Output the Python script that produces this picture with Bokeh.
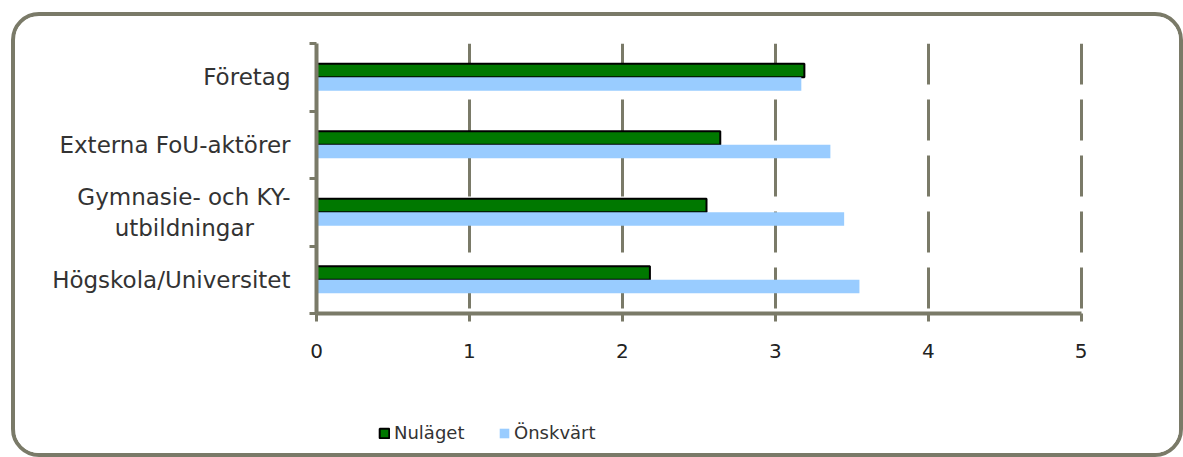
from bokeh.plotting import figure
from bokeh.layouts import column
from bokeh.models import ColumnDataSource, FixedTicker, Range1d, Legend, LegendItem
from bokeh.embed import file_html
from bokeh.resources import INLINE
from bokeh.transform import dodge

# ---- data ----
NB = "\u00a0"
categories = ["Högskola/Universitet", "Gymnasie- och KY-\nutbildningar" + NB * 5,
              "Externa FoU-aktörer", "Företag"]
nulaget = [2.18, 2.55, 2.64, 3.19]
onskvart = [3.55, 3.45, 3.36, 3.17]
x_ticks = [0, 1, 2, 3, 4, 5]
series_names = ["Nuläget", "Önskvärt"]

AX = "#7a7a68"
FONT = "DejaVu Sans"
GREEN = "#007800"
BLUE = "#99ccff"

ypos = [i + 0.5 for i in range(len(categories))]
src = ColumnDataSource(dict(y=ypos, nu=nulaget, on=onskvart))

p = figure(width=1164, height=357, output_backend="svg", toolbar_location=None,
           x_range=Range1d(0, 5.015), y_range=Range1d(0, len(categories)),
           min_border_left=301, min_border_right=96, min_border_top=27,
           min_border_bottom=60)
p.outline_line_color = None
p.background_fill_color = "white"
p.border_fill_color = "white"

r1 = p.hbar(y=dodge("y", 0.1), right="nu", left=0, height=0.2, source=src,
            fill_color=GREEN, line_color="black", line_width=2)
r2 = p.hbar(y=dodge("y", -0.1), right="on", left=0, height=0.2, source=src,
            fill_color=BLUE, line_color=None)

# x axis
p.xaxis.ticker = FixedTicker(ticks=x_ticks)
p.xaxis.bounds = (0, 5)
p.xaxis.axis_line_color = AX
p.xaxis.axis_line_width = 4
p.xaxis.major_tick_line_color = AX
p.xaxis.major_tick_line_width = 3
p.xaxis.major_tick_out = 8
p.xaxis.major_tick_in = 0
p.xaxis.minor_tick_line_color = None
p.xaxis.major_label_text_font = FONT
p.xaxis.major_label_text_font_size = "20px"
p.xaxis.major_label_text_color = "#222222"
p.xaxis.major_label_standoff = 22

# y axis
p.yaxis.ticker = FixedTicker(ticks=ypos, minor_ticks=list(range(len(categories) + 1)))
p.yaxis.major_label_overrides = {y: c for y, c in zip(ypos, categories)}
p.yaxis.axis_line_color = AX
p.yaxis.axis_line_width = 4
p.yaxis.major_tick_line_color = None
p.yaxis.major_tick_out = 0
p.yaxis.major_tick_in = 0
p.yaxis.minor_tick_line_color = AX
p.yaxis.minor_tick_line_width = 3
p.yaxis.minor_tick_out = 7
p.yaxis.minor_tick_in = 0
p.yaxis.major_label_text_font = FONT
p.yaxis.major_label_text_font_size = "23px"
p.yaxis.major_label_text_color = "#333333"
p.yaxis.major_label_standoff = 19

# grid
p.xgrid.ticker = FixedTicker(ticks=x_ticks)
p.xgrid.grid_line_color = AX
p.xgrid.grid_line_width = 3
p.xgrid.grid_line_dash = "41 15"
p.xgrid.grid_line_dash_offset = 51
p.ygrid.visible = False

# legend strip (separate figure below the chart, inside the same rounded frame)
lg = figure(width=1164, height=80, output_backend="svg", toolbar_location=None,
            x_range=Range1d(0, 1), y_range=Range1d(0, 1),
            x_axis_location=None, y_axis_location=None, min_border=0)
lg.outline_line_color = None
lg.background_fill_color = "white"
lg.border_fill_color = "white"
lg.xgrid.visible = False
lg.ygrid.visible = False
NAN = float("nan")
swatch = ColumnDataSource(dict(y=[NAN], nu=[NAN], on=[NAN]))  # legend swatches only
l1 = lg.hbar(y="y", right="nu", left=0, height=0.2, source=swatch,
             fill_color=GREEN, line_color="black", line_width=2)
l2 = lg.hbar(y="y", right="on", left=0, height=0.2, source=swatch,
             fill_color=BLUE, line_color=None)
legend = Legend(items=[LegendItem(label=series_names[0], renderers=[l1]),
                       LegendItem(label=series_names[1], renderers=[l2])],
                orientation="horizontal", location=(62, 10),
                padding=0, margin=0, spacing=9, label_standoff=4,
                glyph_width=12, glyph_height=12, label_width=95,
                label_text_font=FONT, label_text_font_size="18px",
                label_text_color="#333333",
                border_line_color=None, background_fill_alpha=0)
lg.add_layout(legend)

layout = column(p, lg, spacing=0)
layout.styles = {"border": f"4px solid {AX}", "border-radius": "28px",
                 "margin-left": "11px", "margin-top": "12px", "overflow": "hidden",
                 "background": "white"}

open("out.html", "w").write(file_html(layout, INLINE))
